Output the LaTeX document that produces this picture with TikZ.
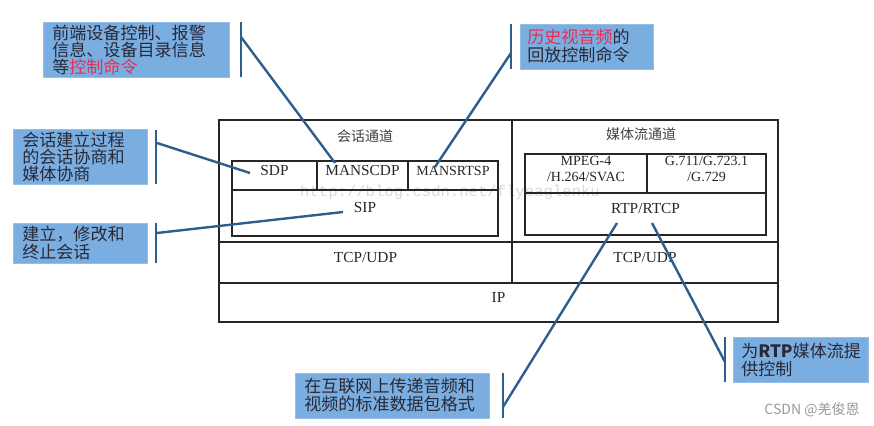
\documentclass[tikz,border=0pt]{standalone}
\usepackage{fontspec}
\setmainfont{Liberation Serif}
\newfontfamily\cjk{Noto Sans CJK SC}
\newfontfamily\wmono{Liberation Mono}
\usetikzlibrary{fit}
\definecolor{callfill}{RGB}{123,174,224}
\definecolor{callborder}{RGB}{150,190,230}
\definecolor{callline}{RGB}{46,95,140}
\definecolor{calltext}{RGB}{40,40,55}
\definecolor{hired}{RGB}{232,45,85}
\begin{document}
\begin{tikzpicture}[x=0.75pt,y=-0.75pt,
  layer/.style={draw=black!85,line width=1.2pt,inner sep=0pt,
    font=\fontsize{11.5}{13}\selectfont,text=black!85,align=center},
  small/.style={font=\fontsize{10.5}{12.5}\selectfont},
  callout/.style={fill=callfill,draw=callborder,line width=0.5pt,inner sep=0pt},
  bracket/.style={draw=callline,line width=2.2pt},
  conn/.style={draw=callline,line width=1.8pt},
  ctext/.style={font=\cjk\fontsize{12.8}{13}\selectfont,text=calltext,
    align=left,inner sep=0pt,anchor=west},
  ttl/.style={font=\cjk\fontsize{10.5}{12}\selectfont,text=black!75,inner sep=0pt}]
\useasboundingbox (0,0) rectangle (874,425);

% watermark
\node[font=\wmono\fontsize{11.7}{12}\selectfont,text=black!15,inner sep=0pt] (wm) at (450,192) {http://blog.csdn.net/flyeaglenku};

% main layered frame
\node[layer,fit={(219,120) (512,242)}] (sess) {};
\node[layer,fit={(512,120) (778,242)}] (media) {};
\node[layer,fit={(219,242) (512,283)}] (tcpa) {TCP/UDP};
\node[layer,fit={(512,242) (778,283)}] (tcpb) {TCP/UDP};
\node[layer,fit={(219,283) (778,322)}] (ip) {IP};

\node[ttl] (sesst) at (365,136) {会话通道};
\node[ttl] (mediat) at (641,134) {媒体流通道};

\node[layer,fit={(232,161) (317,190)}] (sdp) {SDP};
\node[layer,fit={(317,161) (408,190)}] (manscdp) {MANSCDP};
\node[layer,small,fit={(408,161) (498,190)}] (mansrtsp) {MANSRTSP};
\node[layer,fit={(232,190) (498,236)}] (sip) {SIP};

\node[layer,small,fit={(525,154) (647,193)}] (mpeg) {MPEG-4\\/H.264/SVAC};
\node[layer,small,fit={(647,154) (766,193)}] (g711) {G.711/G.723.1\\/G.729};
\node[layer,fit={(525,193) (766,235)}] (rtp) {RTP/RTCP};

% callout boxes
\node[callout,fit={(43,22) (229,77)}] (c1) {};
\node[ctext] (t1) at (52,50) {前端设备控制、报警\\信息、设备目录信息\\等{\color{hired}控制命令}};
\node[callout,fit={(520,24) (653,69)}] (c2) {};
\node[ctext] (t2) at (527,46) {{\color{hired}历史视音频}的\\回放控制命令};
\node[callout,fit={(13,129) (147,184)}] (c3) {};
\node[ctext] (t3) at (22,157) {会话建立过程\\的会话协商和\\媒体协商};
\node[callout,fit={(13,223) (147,263)}] (c4) {};
\node[ctext] (t4) at (22,243) {建立，修改和\\终止会话};
\node[callout,fit={(295,373) (489,418)}] (c5) {};
\node[ctext] (t5) at (304,395) {在互联网上传递音频和\\视频的标准数据包格式};
\node[callout,fit={(733,337) (868,382)}] (c6) {};
\node[ctext] (t6) at (741,360) {为\textbf{RTP}媒体流提\\供控制};

% brackets
\coordinate (b1t) at (241,22); \coordinate (b1b) at (241,77);
\coordinate (b2t) at (511,24); \coordinate (b2b) at (511,69);
\coordinate (b3t) at (156,130); \coordinate (b3b) at (156,184);
\coordinate (b4t) at (156,223); \coordinate (b4b) at (156,263);
\coordinate (b5t) at (503,373); \coordinate (b5b) at (503,418);
\coordinate (b6t) at (725,337); \coordinate (b6b) at (725,382);
\foreach \b in {1,...,6} {\draw[bracket] (b\b t) -- (b\b b);}

% connectors
\coordinate (s1) at (241,37);  \coordinate (e1) at (335,163);
\coordinate (s2) at (511,53);  \coordinate (e2) at (435,167);
\coordinate (s3) at (157,143); \coordinate (e3) at (250,173);
\coordinate (s4) at (157,233); \coordinate (e4) at (343,212);
\coordinate (s5) at (503,407); \coordinate (e5) at (617,223);
\coordinate (s6) at (725,362); \coordinate (e6) at (652,223);
\foreach \c in {1,...,6} {\draw[conn] (s\c) -- (e\c);}

\node[font=\cjk\fontsize{10.5}{12}\selectfont,text=black!40,inner sep=0pt] (csdn) at (812,410) {CSDN @羌俊恩};
\end{tikzpicture}
\end{document}
